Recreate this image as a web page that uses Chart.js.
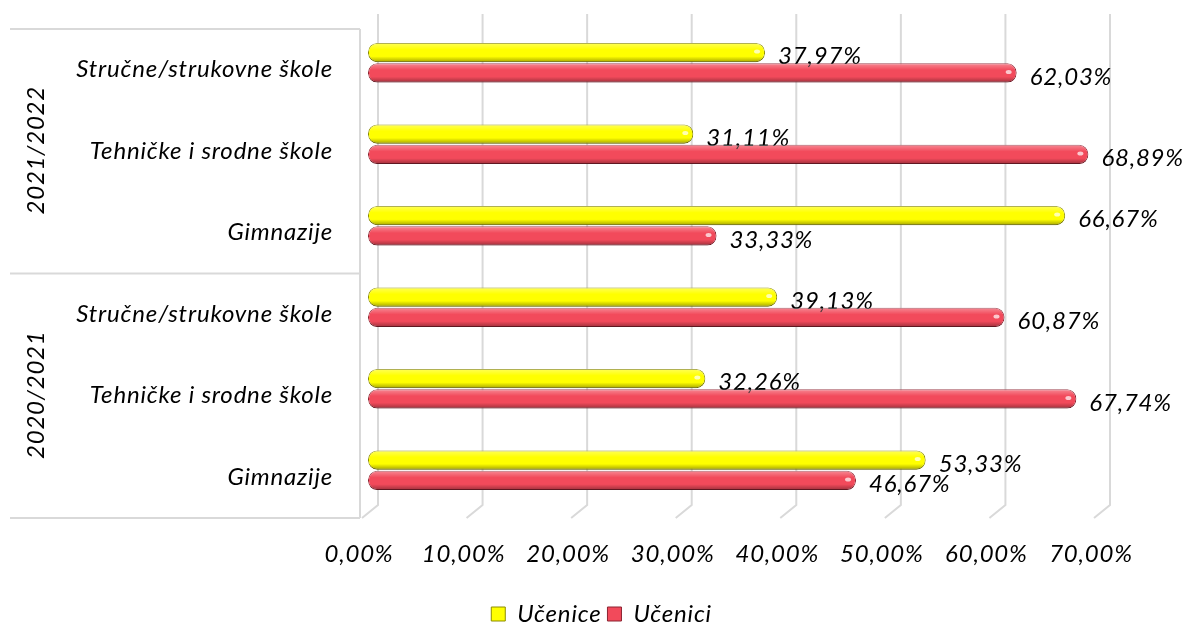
<!DOCTYPE html>
<html>
<head>
<meta charset="utf-8">
<script src="https://cdn.jsdelivr.net/npm/chart.js@4.4.0/dist/chart.umd.min.js"></script>
<style>
  html, body { margin: 0; padding: 0; background: #fff; }
  #wrap { width: 1186px; height: 626px; position: relative; }
</style>
</head>
<body>
<div id="wrap"><canvas id="chart"></canvas></div>
<script>
const groups = ['2021/2022', '2020/2021'];
const schools = ['Stručne/strukovne škole', 'Tehničke i srodne škole', 'Gimnazije'];
const categories = [...schools, ...schools];
const ucenice = [37.97, 31.11, 66.67, 39.13, 32.26, 53.33];
const ucenici = [62.03, 68.89, 33.33, 60.87, 67.74, 46.67];
const xTicks = [0, 10, 20, 30, 40, 50, 60, 70];

const fmt = v => v.toFixed(2).replace('.', ',') + '%';
const FONT = 'Lato';
const SIZE = 24;

// wider letters, closer to the original font
const spacingPlugin = {
    id: 'spacing',
    beforeDraw(chart) { chart.ctx.letterSpacing = '0.8px'; }
};

// 3D-ish back wall grid and the category box on the left
const framePlugin = {
    id: 'frame',
    beforeDatasetsDraw(chart) {
        const { ctx, chartArea: a, scales: { x, y } } = chart;
        ctx.save();
        ctx.strokeStyle = '#d9d9d9';
        ctx.lineWidth = 2;
        xTicks.forEach(t => {
            const px = x.getPixelForValue(t);
            ctx.beginPath();
            ctx.moveTo(px + 10, a.top - 8);
            ctx.lineTo(px + 10, a.bottom - 6);
            ctx.lineTo(px - 6, a.bottom + 7);
            ctx.stroke();
        });
        // category box
        const half = (y.getPixelForTick(1) - y.getPixelForTick(0)) / 2;
        const top = y.getPixelForTick(0) - half + 7;
        const mid = y.getPixelForTick(3) - half + 7;
        const bot = y.getPixelForTick(5) + half + 7;
        const right = a.left - 8;
        ctx.beginPath();
        ctx.moveTo(10, top); ctx.lineTo(right, top);
        ctx.moveTo(10, mid); ctx.lineTo(right, mid);
        ctx.moveTo(10, bot); ctx.lineTo(right, bot);
        ctx.moveTo(right, top); ctx.lineTo(right, bot);
        ctx.stroke();
        // group labels
        ctx.fillStyle = '#000';
        ctx.font = 'italic ' + SIZE + 'px ' + FONT;
        ctx.textAlign = 'center';
        ctx.textBaseline = 'middle';
        groups.forEach((g, i) => {
            const cy = (y.getPixelForTick(i * 3) + y.getPixelForTick(i * 3 + 2)) / 2 + 6;
            ctx.save();
            ctx.translate(36, cy);
            ctx.rotate(-Math.PI / 2);
            ctx.fillText(g, 0, 0);
            ctx.restore();
        });
        ctx.restore();
    }
};

// shading on the bars and value labels
const barPlugin = {
    id: 'bars3d',
    afterDatasetsDraw(chart) {
        const { ctx } = chart;
        ctx.save();
        chart.data.datasets.forEach((ds, di) => {
            const meta = chart.getDatasetMeta(di);
            meta.data.forEach((bar, i) => {
                const h = bar.height;
                const x0 = bar.base, x1 = bar.x, yt = bar.y - h / 2;
                const r = h / 2;
                ctx.save();
                ctx.beginPath();
                ctx.roundRect(x0, yt, x1 - x0, h, r);
                ctx.clip();
                const g = ctx.createLinearGradient(0, yt, 0, yt + h);
                g.addColorStop(0, 'rgba(255,255,255,0.35)');
                g.addColorStop(0.35, 'rgba(255,255,255,0)');
                g.addColorStop(0.7, 'rgba(0,0,0,0)');
                g.addColorStop(1, 'rgba(0,0,0,0.35)');
                ctx.fillStyle = g;
                ctx.fillRect(x0, yt, x1 - x0, h);
                // highlight near the end cap
                ctx.fillStyle = 'rgba(255,255,255,0.7)';
                ctx.beginPath();
                ctx.ellipse(x1 - 8, bar.y - 1, 3, 2, 0, 0, Math.PI * 2);
                ctx.fill();
                ctx.restore();

                ctx.fillStyle = '#000';
                ctx.font = 'italic ' + SIZE + 'px ' + FONT;
                ctx.textAlign = 'left';
                ctx.textBaseline = 'middle';
                ctx.fillText(fmt(ds.data[i]), x1 + 13, bar.y + 4);
            });
        });
        ctx.restore();
    }
};

window.addEventListener('DOMContentLoaded', () => {
    Chart.defaults.font.family = FONT;
    Chart.defaults.font.style = 'italic';
    Chart.defaults.color = '#000';

    const ctx = document.getElementById('chart').getContext('2d');
    new Chart(ctx, {
        type: 'bar',
        data: {
            labels: categories,
            datasets: [
                { label: 'Učenice', data: ucenice, backgroundColor: '#ffff00', borderColor: '#8c8c00', borderWidth: 1, borderRadius: 9, borderSkipped: false },
                { label: 'Učenici', data: ucenici, backgroundColor: '#f24a5b', borderColor: '#8c2331', borderWidth: 1, borderRadius: 9, borderSkipped: false }
            ]
        },
        options: {
            indexAxis: 'y',
            responsive: true,
            maintainAspectRatio: false,
            animation: false,
            layout: { padding: { top: 22, right: 4, left: 10, bottom: -10 } },
            datasets: { bar: { categoryPercentage: 0.5, barPercentage: 0.94 } },
            scales: {
                x: {
                    min: 0, max: 70,
                    afterBuildTicks: s => { s.ticks = xTicks.map(v => ({ value: v })); },
                    grid: { display: false },
                    border: { display: false },
                    ticks: { callback: v => fmt(v), padding: 21, labelOffset: -9, font: { size: SIZE, style: 'italic' } },
                    afterFit: s => { s.height = 85; s.paddingRight = 86; }
                },
                y: {
                    grid: { display: false, drawTicks: false },
                    border: { display: false },
                    ticks: { padding: 35, labelOffset: 7, font: { size: SIZE, style: 'italic' } },
                    afterFit: s => { s.width = 358; s.paddingTop = 0; s.paddingBottom = 0; }
                }
            },
            plugins: {
                legend: {
                    position: 'bottom',
                    labels: {
                        boxWidth: 14, boxHeight: 14, padding: 6,
                        font: { size: SIZE, style: 'italic' },
                        generateLabels: chart => chart.data.datasets.map((d, i) => ({
                            text: d.label, fillStyle: d.backgroundColor, strokeStyle: d.borderColor,
                            lineWidth: 1, datasetIndex: i, hidden: false
                        }))
                    }
                },
                tooltip: { enabled: false }
            }
        },
        plugins: [spacingPlugin, framePlugin, barPlugin]
    });
});
</script>
</body>
</html>
